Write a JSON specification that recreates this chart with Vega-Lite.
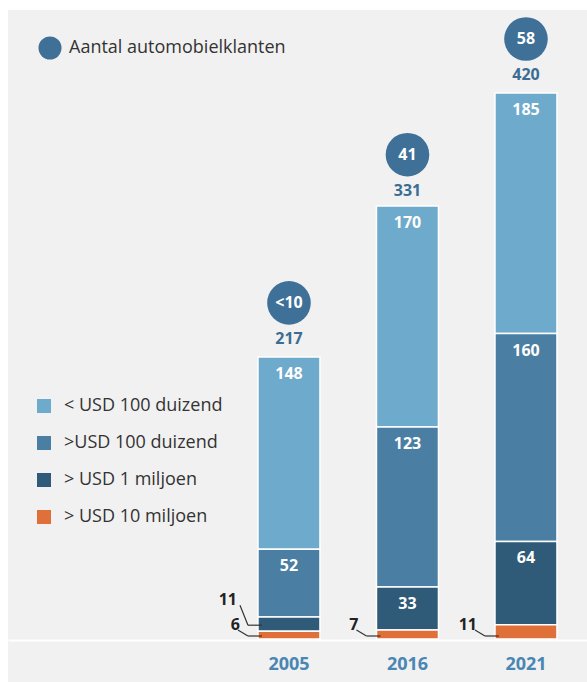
{
  "$schema": "https://vega.github.io/schema/vega-lite/v6.json",
  "width": 579,
  "height": 672,
  "padding": {"left": 8, "top": 10, "right": 0, "bottom": 0},
  "background": "#ffffff",
  "config": {"view": {"fill": "#f1f1f1", "stroke": null}, "font": "Open Sans"},
  "datasets": {
    "seg": [
      {"year": "2005", "cat": "< USD 100 duizend", "value": 148, "rank": 4},
      {"year": "2005", "cat": ">USD 100 duizend", "value": 52, "rank": 3},
      {"year": "2005", "cat": "> USD 1 miljoen", "value": 11, "rank": 2},
      {"year": "2005", "cat": "> USD 10 miljoen", "value": 6, "rank": 1},
      {"year": "2016", "cat": "< USD 100 duizend", "value": 170, "rank": 4},
      {"year": "2016", "cat": ">USD 100 duizend", "value": 123, "rank": 3},
      {"year": "2016", "cat": "> USD 1 miljoen", "value": 33, "rank": 2},
      {"year": "2016", "cat": "> USD 10 miljoen", "value": 7, "rank": 1},
      {"year": "2021", "cat": "< USD 100 duizend", "value": 185, "rank": 4},
      {"year": "2021", "cat": ">USD 100 duizend", "value": 160, "rank": 3},
      {"year": "2021", "cat": "> USD 1 miljoen", "value": 64, "rank": 2},
      {"year": "2021", "cat": "> USD 10 miljoen", "value": 11, "rank": 1}
    ],
    "tot": [
      {"year": "2005", "total": 217, "klanten": "<10"},
      {"year": "2016", "total": 331, "klanten": "41"},
      {"year": "2021", "total": 420, "klanten": "58"}
    ]
  },
  "encoding": {
    "x": {
      "field": "year",
      "type": "nominal",
      "scale": {"paddingInner": 0.114, "paddingOuter": 1, "align": 0.964},
      "axis": {
        "title": null,
        "orient": "bottom",
        "offset": -42,
        "domainColor": "#ffffff",
        "domainWidth": 2,
        "ticks": false,
        "tickSize": 0,
        "labelPadding": 15,
        "labelAngle": 0,
        "labelFontSize": 18,
        "labelFontWeight": "bold",
        "labelColor": "#4a86b3",
        "grid": false
      }
    }
  },
  "layer": [
    {
      "data": {"name": "seg"},
      "mark": {"type": "bar", "width": 62, "stroke": "#ffffff", "strokeWidth": 1.5},
      "encoding": {
        "y": {"field": "value", "type": "quantitative", "stack": "zero", "scale": {"domain": [-33.08, 483.85], "nice": false, "zero": false}, "axis": null},
        "color": {
          "field": "cat",
          "type": "nominal",
          "scale": {
            "domain": ["< USD 100 duizend", ">USD 100 duizend", "> USD 1 miljoen", "> USD 10 miljoen"],
            "range": ["#6eaacb", "#4a7ea3", "#2f5a78", "#e0703a"]
          },
          "legend": {
            "orient": "none",
            "legendX": 27,
            "legendY": 387,
            "title": null,
            "symbolType": "square",
            "symbolSize": 196,
            "symbolStrokeWidth": 0,
            "labelFontSize": 18,
            "labelColor": "#333333",
            "labelOffset": 11,
            "rowPadding": 19,
            "labelLimit": 300
          }
        },
        "order": {"field": "rank", "type": "quantitative"}
      }
    },
    {
      "data": {"name": "seg"},
      "transform": [
        {"stack": "value", "groupby": ["year"], "sort": [{"field": "rank", "order": "ascending"}], "as": ["y0", "y1"]},
        {"filter": "datum.value >= 20"}
      ],
      "mark": {"type": "text", "color": "#ffffff", "fontWeight": "bold", "fontSize": 16, "dy": 17, "baseline": "middle"},
      "encoding": {
        "y": {"field": "y1", "type": "quantitative", "scale": {"domain": [-33.08, 483.85], "nice": false, "zero": false}, "axis": null},
        "text": {"field": "value", "type": "quantitative"}
      }
    },
    {
      "data": {"name": "seg"},
      "transform": [
        {"stack": "value", "groupby": ["year"], "sort": [{"field": "rank", "order": "ascending"}], "as": ["y0", "y1"]},
        {"filter": "datum.rank == 1"}
      ],
      "mark": {"type": "text", "color": "#222222", "fontWeight": "bold", "fontSize": 16, "dx": -49, "dy": -14, "align": "right", "baseline": "middle"},
      "encoding": {
        "y": {"field": "y0", "type": "quantitative", "scale": {"domain": [-33.08, 483.85], "nice": false, "zero": false}, "axis": null},
        "text": {"field": "value", "type": "quantitative"}
      }
    },
    {
      "data": {"name": "seg"},
      "transform": [
        {"stack": "value", "groupby": ["year"], "sort": [{"field": "rank", "order": "ascending"}], "as": ["y0", "y1"]},
        {"filter": "datum.rank == 2 && datum.value < 20"}
      ],
      "mark": {"type": "text", "color": "#222222", "fontWeight": "bold", "fontSize": 16, "dx": -52, "dy": -31, "align": "right", "baseline": "middle"},
      "encoding": {
        "y": {"field": "y0", "type": "quantitative", "scale": {"domain": [-33.08, 483.85], "nice": false, "zero": false}, "axis": null},
        "text": {"field": "value", "type": "quantitative"}
      }
    },
    {
      "data": {"name": "seg"},
      "transform": [
        {"stack": "value", "groupby": ["year"], "sort": [{"field": "rank", "order": "ascending"}], "as": ["y0", "y1"]},
        {"filter": "datum.rank == 1"}
      ],
      "mark": {"type": "rule", "color": "#333333", "strokeWidth": 1.2, "xOffset": -41, "x2Offset": -27, "yOffset": -3, "y2Offset": -3},
      "encoding": {
        "x2": {"field": "year"},
        "y": {"field": "y0", "type": "quantitative", "scale": {"domain": [-33.08, 483.85], "nice": false, "zero": false}, "axis": null},
        "y2": {"field": "y0"}
      }
    },
    {
      "data": {"name": "seg"},
      "transform": [
        {"stack": "value", "groupby": ["year"], "sort": [{"field": "rank", "order": "ascending"}], "as": ["y0", "y1"]},
        {"filter": "datum.rank == 1"}
      ],
      "mark": {"type": "rule", "color": "#333333", "strokeWidth": 1.2, "xOffset": -51, "x2Offset": -41, "yOffset": -9, "y2Offset": -3},
      "encoding": {
        "x2": {"field": "year"},
        "y": {"field": "y0", "type": "quantitative", "scale": {"domain": [-33.08, 483.85], "nice": false, "zero": false}, "axis": null},
        "y2": {"field": "y0"}
      }
    },
    {
      "data": {"name": "seg"},
      "transform": [
        {"stack": "value", "groupby": ["year"], "sort": [{"field": "rank", "order": "ascending"}], "as": ["y0", "y1"]},
        {"filter": "datum.rank == 2 && datum.value < 20"}
      ],
      "mark": {"type": "rule", "color": "#333333", "strokeWidth": 1.2, "xOffset": -41, "x2Offset": -27, "yOffset": -6, "y2Offset": -6},
      "encoding": {
        "x2": {"field": "year"},
        "y": {"field": "y0", "type": "quantitative", "scale": {"domain": [-33.08, 483.85], "nice": false, "zero": false}, "axis": null},
        "y2": {"field": "y0"}
      }
    },
    {
      "data": {"name": "seg"},
      "transform": [
        {"stack": "value", "groupby": ["year"], "sort": [{"field": "rank", "order": "ascending"}], "as": ["y0", "y1"]},
        {"filter": "datum.rank == 2 && datum.value < 20"}
      ],
      "mark": {"type": "rule", "color": "#333333", "strokeWidth": 1.2, "xOffset": -49, "x2Offset": -41, "yOffset": -26, "y2Offset": -6},
      "encoding": {
        "x2": {"field": "year"},
        "y": {"field": "y0", "type": "quantitative", "scale": {"domain": [-33.08, 483.85], "nice": false, "zero": false}, "axis": null},
        "y2": {"field": "y0"}
      }
    },
    {
      "data": {"name": "tot"},
      "mark": {"type": "text", "color": "#3b6d94", "fontWeight": "bold", "fontSize": 16, "dy": -18, "baseline": "middle"},
      "encoding": {
        "y": {"field": "total", "type": "quantitative", "scale": {"domain": [-33.08, 483.85], "nice": false, "zero": false}, "axis": null},
        "text": {"field": "total", "type": "quantitative"}
      }
    },
    {
      "data": {"name": "tot"},
      "mark": {"type": "point", "filled": true, "color": "#3e7098", "opacity": 1, "size": 1900, "yOffset": -54},
      "encoding": {
        "y": {"field": "total", "type": "quantitative", "scale": {"domain": [-33.08, 483.85], "nice": false, "zero": false}, "axis": null},
        "shape": {
          "datum": "Aantal automobielklanten",
          "type": "nominal",
          "scale": {"range": ["circle"]},
          "legend": {
            "orient": "none",
            "legendX": 30,
            "legendY": 26,
            "title": null,
            "symbolSize": 530,
            "symbolFillColor": "#3e7098",
            "symbolStrokeWidth": 0,
            "symbolOpacity": 1,
            "labelFontSize": 18,
            "labelColor": "#333333",
            "labelOffset": 7,
            "labelLimit": 400
          }
        }
      }
    },
    {
      "data": {"name": "tot"},
      "mark": {"type": "text", "color": "#ffffff", "fontWeight": "bold", "fontSize": 16, "dy": -54, "baseline": "middle"},
      "encoding": {
        "y": {"field": "total", "type": "quantitative", "scale": {"domain": [-33.08, 483.85], "nice": false, "zero": false}, "axis": null},
        "text": {"field": "klanten", "type": "nominal"}
      }
    }
  ]
}
